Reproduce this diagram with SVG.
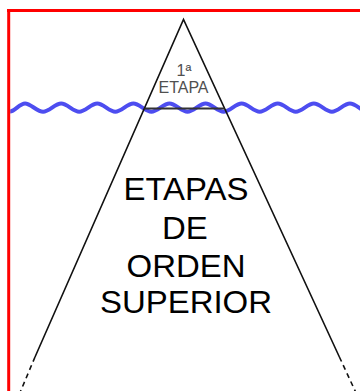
<svg xmlns="http://www.w3.org/2000/svg" width="360" height="391" viewBox="0 0 360 391">
  <style>
    .frame { stroke: #ff0000; stroke-width: 3; fill: none; }
    .wave { stroke: #4d4df0; stroke-width: 4; fill: none; }
    .edge { stroke: #111; stroke-width: 1.6; fill: none; }
    .dash { stroke: #111; stroke-width: 1.6; fill: none; stroke-dasharray: 5 4; }
    .water { stroke: #333; stroke-width: 2; }
    .small { font-family: "Liberation Sans", Arial, sans-serif; font-size: 16px; fill: #505050; text-anchor: middle; }
    .big { font-family: "Liberation Sans", Arial, sans-serif; font-size: 30.5px; fill: #000; text-anchor: middle; }
  </style>
  <rect width="360" height="391" fill="#fff"/>
  <g id="waterline">
    <path class="wave" d="M10.2 111.4 C15 111.4 19.5 103.5 25.05 103.5 S37.08 111.7 43.1 111.7 S55.13 103.5 61.15 103.5 S73.18 111.7 79.2 111.7 S91.23 103.5 97.25 103.5 S109.28 111.7 115.3 111.7 S127.33 103.5 133.35 103.5 S145.38 111.7 151.4 111.7 S163.43 103.5 169.45 103.5 S181.48 111.7 187.5 111.7 S199.53 103.5 205.55 103.5 S217.58 111.7 223.6 111.7 S235.63 103.5 241.65 103.5 S253.68 111.7 259.7 111.7 S271.73 103.5 277.75 103.5 S289.78 111.7 295.8 111.7 S307.83 103.5 313.85 103.5 S325.88 111.7 331.9 111.7 S343.93 103.5 349.95 103.5 S361.98 111.7 368 111.7"/>
  </g>
  <g id="frame">
    <line class="frame" x1="7" y1="10.5" x2="360" y2="10.5"/>
    <line class="frame" x1="8.7" y1="9" x2="8.7" y2="391"/>
  </g>
  <g id="iceberg">
    <polyline class="edge" points="35,357 183.5,19.5 339.4,357"/>
    <line class="dash" x1="35" y1="357" x2="19" y2="395"/>
    <line class="dash" x1="339.4" y1="357" x2="357" y2="395"/>
    <line class="water" x1="144.5" y1="108.5" x2="224.5" y2="108.5"/>
  </g>
  <g id="tip-label">
    <text class="small" x="184" y="76">1ª</text>
    <text class="small" x="183.5" y="93">ETAPA</text>
  </g>
  <g id="body-label" transform="translate(186 0) scale(1.08 1)">
    <text class="big" x="0" y="200">ETAPAS</text>
    <text class="big" x="-1" y="239">DE</text>
    <text class="big" x="0" y="277">ORDEN</text>
    <text class="big" x="0" y="313">SUPERIOR</text>
  </g>
</svg>
